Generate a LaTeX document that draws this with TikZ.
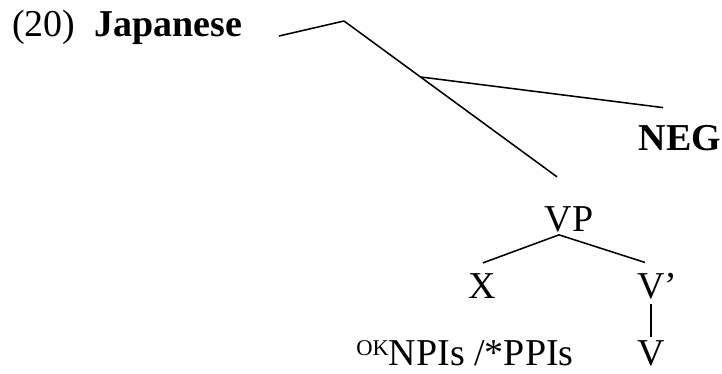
\documentclass[tikz,border=0pt]{standalone}
\usepackage{fontspec}
\setmainfont{Liberation Serif}
\begin{document}
\begin{tikzpicture}[x=0.025cm,y=-0.025cm]
      \useasboundingbox (0,0) rectangle (722,374);

      \begin{scope}[every node/.style={inner sep=0pt,anchor=base,font=\fontsize{27}{31}\selectfont}]
        \node[anchor=base west] (ex) at (12,37) {(20)\hspace{0.5em}\textbf{Japanese}};
        \node (neg)  at (680,150) {\textbf{NEG}};
        \node (vp)   at (569,231) {VP};
        \node (x)    at (482,298) {X};
        \node (vbar) at (651,298) {V\rlap{’}};
        \node (v)    at (651,365) {V};
        \node (npi)  at (465,365) {\raisebox{7pt}{\fontsize{16}{18}\selectfont OK}NPIs /*PPIs};
      \end{scope}

      \coordinate (top)  at (344,21);
      \coordinate (spec) at (279,36);
      \coordinate (mid)  at (420,76.9);

      \begin{scope}[every edge/.style={draw,line width=1.1pt}]
        \path (top) edge (spec);
        \path (top) edge ([shift={(-12,-29)}]vp.north);
        \path (mid) edge ([shift={(-17,-17)}]neg.north);
        \path ([shift={(-10,3)}]vp.south) edge ([shift={(1,-10)}]x.north);
        \path ([shift={(-10,3)}]vp.south) edge ([shift={(-6,-10)}]vbar.north);
        \path (vbar) edge[shorten <=4pt,shorten >=2pt] (v);
      \end{scope}

    \end{tikzpicture}
\end{document}
